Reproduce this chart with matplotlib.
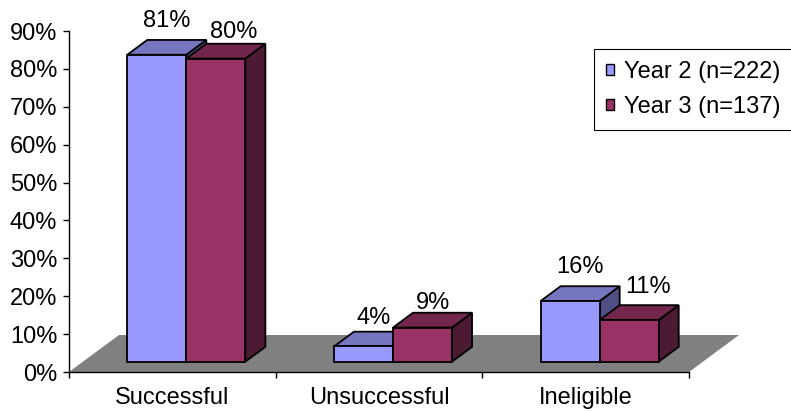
import matplotlib
matplotlib.use("Agg")
import matplotlib.pyplot as plt
from matplotlib.patches import Polygon, Patch
from matplotlib.ticker import FixedLocator, FuncFormatter

# ---- data -------------------------------------------------------------
categories = ["Successful", "Unsuccessful", "Ineligible"]
series_names = ["Year 2 (n=222)", "Year 3 (n=137)"]
year2 = [81, 4, 16]
year3 = [80, 9, 11]
y_ticks = [0, 10, 20, 30, 40, 50, 60, 70, 80, 90]

# ---- styling -----------------------------------------------------------
front_colors = ["#9999FF", "#993366"]
top_colors = ["#7676C0", "#73264C"]
side_colors = ["#4F4F85", "#4D1A33"]
floor_color = "#808080"

# small pixel nudges for value labels that would crowd a neighbour
label_nudge = {(0, 1): (8, -7), (1, 0): (0, -5), (1, 1): (0, -9), (2, 1): (9, -1)}

plt.rcParams["font.family"] = ["Liberation Sans", "DejaVu Sans"]
FS = 17

W, H = 791, 411
fig = plt.figure(figsize=(W / 100, H / 100), dpi=100)
ax_left, ax_bottom, ax_w, ax_h = 69, 39, 620, 341
ax = fig.add_axes([ax_left / W, ax_bottom / H, ax_w / W, ax_h / H])
ax.set_xlim(0, len(categories))
ax.set_ylim(0, 90)

# oblique depth of the floor, expressed in data units
px_x = ax_w / len(categories)
px_y = ax_h / 90
DX = 50 / px_x
DY = 37 / px_y

# floor
floor = Polygon([(0, 0), (len(categories), 0),
                 (len(categories) + DX, DY), (DX, DY)],
                closed=True, facecolor=floor_color, edgecolor="none",
                zorder=1, clip_on=False)
ax.add_patch(floor)

# bar geometry (fractions of a category / of the floor depth)
gap = 1.5
bar_w = 1 / (2 + gap)
start = gap / 2 * bar_w
f_front, f_back = 0.28, 0.68


def draw_box(x0, width, h, k, z):
    fx, fy = f_front * DX, f_front * DY
    bx, by = f_back * DX, f_back * DY
    x1 = x0 + width
    front = [(x0 + fx, fy), (x1 + fx, fy), (x1 + fx, fy + h), (x0 + fx, fy + h)]
    top = [(x0 + fx, fy + h), (x1 + fx, fy + h), (x1 + bx, by + h), (x0 + bx, by + h)]
    side = [(x1 + fx, fy), (x1 + bx, by), (x1 + bx, by + h), (x1 + fx, fy + h)]
    kw = dict(closed=True, edgecolor="black", linewidth=1.3,
              joinstyle="miter", clip_on=False, zorder=z)
    ax.add_patch(Polygon(side, facecolor=side_colors[k], **kw))
    ax.add_patch(Polygon(top, facecolor=top_colors[k], **kw))
    ax.add_patch(Polygon(front, facecolor=front_colors[k], **kw))


series = [year2, year3]
for i, cat in enumerate(categories):
    for k, vals in enumerate(series):
        x0 = i + start + k * bar_w
        h = vals[i]
        draw_box(x0, bar_w, h, k, 3 + k)
        # value label above the top face
        cx = x0 + bar_w / 2 + (f_front + 0.2) * DX
        cy = h + f_back * DY
        nx, ny = label_nudge.get((i, k), (0, 0))
        ax.annotate(f"{h}%", xy=(cx, cy), xytext=(nx, 8 + ny),
                    textcoords="offset pixels", ha="center", va="bottom",
                    fontsize=FS, color="black", zorder=10,
                    annotation_clip=False)

# axes
for s in ["top", "right"]:
    ax.spines[s].set_visible(False)
for s in ["left", "bottom"]:
    ax.spines[s].set_linewidth(1.0)
    ax.spines[s].set_color("black")
    ax.spines[s].set_zorder(2)

ax.yaxis.set_major_locator(FixedLocator(y_ticks))
ax.yaxis.set_major_formatter(FuncFormatter(lambda v, p: f"{int(v)}%"))
ax.tick_params(axis="y", direction="out", length=4.5, width=1.0,
               pad=4, labelsize=FS)

ax.xaxis.set_major_locator(FixedLocator(range(len(categories) + 1)))
ax.xaxis.set_major_formatter(FuncFormatter(lambda v, p: ""))
ax.xaxis.set_minor_locator(FixedLocator([i + 0.5 for i in range(len(categories))]))
ax.set_xticklabels(categories, minor=True)
ax.tick_params(axis="x", which="major", direction="out", length=4, width=1.0)
ax.tick_params(axis="x", which="minor", length=0, pad=11, labelsize=FS)

ax.patch.set_visible(False)

# legend
handles = [Patch(facecolor=front_colors[k], edgecolor="black", linewidth=1.0)
           for k in range(2)]
leg = fig.legend(handles, series_names, loc="upper left",
                 bbox_to_anchor=(594 / W, 1 - 49 / H),
                 bbox_transform=fig.transFigure, fontsize=FS,
                 frameon=True, fancybox=False, framealpha=1,
                 edgecolor="black", handlelength=0.36, handleheight=0.36,
                 handletextpad=0.4, labelspacing=0.55, borderpad=0.5,
                 borderaxespad=0)
leg.get_frame().set_linewidth(0.8)

fig.savefig("out.png", dpi=100)
